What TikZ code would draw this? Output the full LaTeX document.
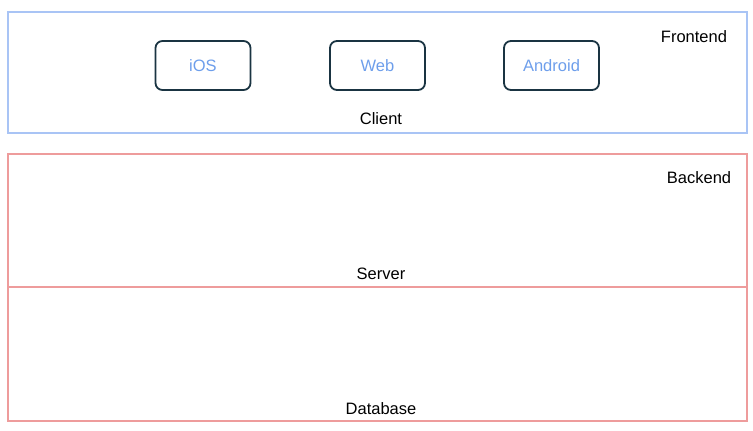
\documentclass[tikz,border=0pt]{standalone}
\usepackage{fontspec}
\setmainfont{Liberation Sans}
\definecolor{feblue}{HTML}{A9C4F5}
\definecolor{bered}{HTML}{EE9C9C}
\definecolor{boxdark}{HTML}{1A3442}
\definecolor{txtblue}{HTML}{6D9EEB}
\begin{document}
\begin{tikzpicture}[x=1pt,y=-1pt,
  layer/.style={draw=#1,line width=1.3pt},
  device/.style={draw=boxdark,line width=1.8pt,rounded corners=7pt,minimum width=95pt,minimum height=49pt,inner sep=0pt,text=txtblue,font=\fontsize{16.5}{19}\selectfont},
  lbl/.style={inner sep=0pt,font=\fontsize{16.5}{19}\selectfont}]
\useasboundingbox (0,0) rectangle (753,431);
\draw[layer=feblue] (8,12) rectangle (747,133);
\draw[layer=bered] (8,154) rectangle (747,421);
\draw[layer=bered] (8,287) -- (747,287);
\node[device] (ios) at (203,65.5) {iOS};
\node[device] (web) at (377.5,65.5) {Web};
\node[device] (android) at (551.5,65.5) {Android};
\node[lbl] (frontend) at (694,37) {Frontend};
\node[lbl] (client) at (381,119) {Client};
\node[lbl] (backend) at (699,178) {Backend};
\node[lbl] (server) at (381,274) {Server};
\node[lbl] (database) at (381,409) {Database};
\end{tikzpicture}
\end{document}
